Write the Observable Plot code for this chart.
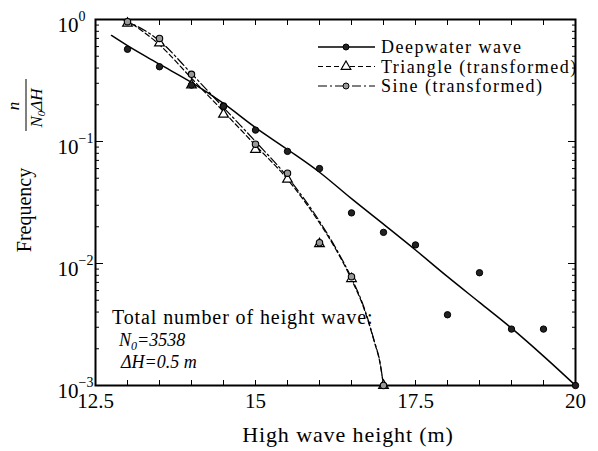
<!DOCTYPE html>
<html><head><meta charset="utf-8">
<script src="https://cdn.jsdelivr.net/npm/d3@7"></script>
<script src="https://cdn.jsdelivr.net/npm/@observablehq/plot@0.6"></script>
<style>
body{margin:0;background:#fff}
#chart svg{display:block}
</style></head><body><div id="chart"></div>
<script>
// Observed wave-height frequencies n/(N0·ΔH), bins of 0.5 m
const deepHeight = [13, 13.5, 14, 14.5, 15, 15.5, 16, 16.5, 17, 17.5, 18, 18.5, 19, 19.5, 20];
const deepFreq   = [0.57, 0.41, 0.29, 0.194, 0.124, 0.083, 0.06, 0.026, 0.018, 0.0142, 0.0038, 0.0084, 0.0029, 0.0029, 0.001];
const triHeight  = [13, 13.5, 14, 14.5, 15, 15.5, 16, 16.5, 17];
const triFreq    = [0.93, 0.64, 0.29, 0.167, 0.086, 0.049, 0.0145, 0.0075, 0.001];
const sineHeight = [13, 13.5, 14, 14.5, 15, 15.5, 16, 16.5, 17];
const sineFreq   = [0.96, 0.70, 0.355, 0.195, 0.095, 0.055, 0.0148, 0.0078, 0.001];

// Fitted distribution curves
const deepFitH = [12.75, 13, 13.5, 14, 14.5, 15, 15.5, 16, 16.5, 17, 17.5, 18, 18.5, 19, 19.5, 20];
const deepFitF = [0.74, 0.61, 0.43, 0.305, 0.205, 0.13, 0.086, 0.056, 0.034, 0.021, 0.0129, 0.0078, 0.0048, 0.00295, 0.00174, 0.001];
const triFitH  = [12.97, 13.5, 14, 14.5, 15, 15.5, 16, 16.25, 16.5, 16.7, 16.85, 16.95, 17];
const triFitF  = [1.0, 0.62, 0.33, 0.176, 0.093, 0.049, 0.0215, 0.0132, 0.0074, 0.0042, 0.00234, 0.00148, 0.001];
const sineFitH = [12.93, 13.5, 14, 14.5, 15, 15.5, 16, 16.25, 16.5, 16.7, 16.85, 16.95, 17];
const sineFitF = [1.0, 0.67, 0.36, 0.19, 0.1, 0.051, 0.0222, 0.0135, 0.0076, 0.0043, 0.00237, 0.0015, 0.001];

// Axes
const xTickMarks  = [12.5, 13, 13.5, 14, 14.5, 15, 15.5, 16, 16.5, 17, 17.5, 18, 18.5, 19, 19.5, 20];
const xTickLabels = [12.5, 15, 17.5, 20];
const yDecades    = [1, 0.1, 0.01, 0.001];
const yExponents  = ["0", "\u22121", "\u22122", "\u22123"];
const yMinor = [0.002,0.003,0.004,0.005,0.006,0.007,0.008,0.009,
                0.02,0.03,0.04,0.05,0.06,0.07,0.08,0.09,
                0.2,0.3,0.4,0.5,0.6,0.7,0.8,0.9];

const serif = "'Liberation Serif', 'Times New Roman', Times, serif";
const blank = () => "";
const expOf = d => yExponents[yDecades.indexOf(d)];

const chart = Plot.plot({
  width: 598, height: 451,
  marginLeft: 95, marginRight: 23, marginTop: 19, marginBottom: 66,
  style: {fontFamily: serif, fontSize: "20px", background: "#fff", color: "#000"},
  x: {domain: [12.5, 20]},
  y: {type: "log", domain: [0.001, 1]},
  marks: [
    // inward ticks on all four sides
    Plot.axisX(xTickMarks, {anchor: "bottom", tickSize: -5, tickFormat: blank, label: null}),
    Plot.axisX(xTickMarks, {anchor: "top", tickSize: -5, tickFormat: blank, label: null}),
    Plot.axisY(yDecades, {anchor: "left", tickSize: -8, tickFormat: blank, label: null}),
    Plot.axisY(yMinor, {anchor: "left", tickSize: -4, tickFormat: blank, label: null}),
    Plot.axisY(yDecades, {anchor: "right", tickSize: -8, tickFormat: blank, label: null}),
    Plot.axisY(yMinor, {anchor: "right", tickSize: -4, tickFormat: blank, label: null}),
    // tick labels
    Plot.axisX(xTickLabels, {anchor: "bottom", tickSize: 0, tickPadding: 8, fontSize: 21, tickFormat: d => String(d), label: null}),
    Plot.axisY(yDecades, {anchor: "left", tickSize: 0, tickPadding: 17, tickFormat: () => "10", fontSize: 21, dy: 6, label: null}),
    Plot.axisY(yDecades, {anchor: "left", tickSize: 0, tickPadding: 17, tickFormat: expOf, textAnchor: "start", fontSize: 14, dy: -3, label: null}),
    Plot.frame({strokeWidth: 2}),
    // fitted curves
    Plot.line(deepFitH, {x: deepFitH, y: deepFitF, curve: "monotone-x", stroke: "#000", strokeWidth: 1.5}),
    Plot.line(triFitH, {x: triFitH, y: triFitF, curve: "monotone-x", stroke: "#000", strokeWidth: 1.2, strokeDasharray: "5,3"}),
    Plot.line(sineFitH, {x: sineFitH, y: sineFitF, curve: "monotone-x", stroke: "#000", strokeWidth: 1.2, strokeDasharray: "9,3,2,3"}),
    // observations
    Plot.dot(triHeight, {x: triHeight, y: triFreq, symbol: "triangle", r: 3.6, fill: "#fff", stroke: "#000", strokeWidth: 1.2}),
    Plot.dot(sineHeight, {x: sineHeight, y: sineFreq, r: 3.2, fill: "#999", stroke: "#000", strokeWidth: 1.1}),
    Plot.dot(deepHeight, {x: deepHeight, y: deepFreq, r: 3.2, fill: "#222", stroke: "#000", strokeWidth: 1})
  ]
});
document.getElementById("chart").appendChild(chart);

const svg = d3.select(chart);

// legend
const legend = [
  {label: "Deepwater wave", dash: null, kind: "deep"},
  {label: "Triangle (transformed)", dash: "5,3", kind: "tri"},
  {label: "Sine (transformed)", dash: "9,3,2,3", kind: "sine"}
];
const lg = svg.append("g").attr("font-family", serif).attr("font-size", 18).attr("text-anchor", "start");
legend.forEach((e, i) => {
  const y = 47 + i * 19.5;
  lg.append("line").attr("x1", 318).attr("x2", 375).attr("y1", y).attr("y2", y)
    .attr("stroke", "#000").attr("stroke-width", e.kind === "deep" ? 1.5 : 1.2)
    .attr("stroke-dasharray", e.dash);
  if (e.kind === "tri") {
    lg.append("path").attr("d", d3.symbol(d3.symbolTriangle, 40)()).attr("transform", `translate(346,${y})`)
      .attr("fill", "#fff").attr("stroke", "#000").attr("stroke-width", 1.2);
  } else {
    lg.append("circle").attr("cx", 346).attr("cy", y).attr("r", 3)
      .attr("fill", e.kind === "deep" ? "#222" : "#999").attr("stroke", "#000");
  }
  lg.append("text").attr("x", 381).attr("y", y + 6).attr("letter-spacing", 1.5).text(e.label);
});

// note on sample size
const note = svg.append("g").attr("font-family", serif).attr("text-anchor", "start");
note.append("text").attr("x", 112).attr("y", 324).attr("font-size", 20).attr("letter-spacing", 0.9).text("Total number of height wave:");
const n0 = note.append("text").attr("x", 119).attr("y", 346).attr("font-size", 18).attr("font-style", "italic");
n0.append("tspan").text("N");
n0.append("tspan").attr("font-size", 12).attr("dy", 4).text("0");
n0.append("tspan").attr("dy", -4).text("=3538");
note.append("text").attr("x", 121).attr("y", 368).attr("font-size", 18).attr("font-style", "italic").text("\u0394H=0.5 m");

// axis titles
svg.append("text").attr("x", 348).attr("y", 442).attr("text-anchor", "middle")
  .attr("font-family", serif).attr("font-size", 22).attr("letter-spacing", 0.9).text("High wave height (m)");
svg.append("text").attr("transform", "translate(31,210) rotate(-90)").attr("text-anchor", "middle")
  .attr("font-family", serif).attr("font-size", 20).text("Frequency");
const frac = svg.append("g").attr("font-family", serif).attr("font-style", "italic").attr("font-size", 17);
frac.append("text").attr("transform", "translate(19,106) rotate(-90)").attr("text-anchor", "middle").text("n");
frac.append("line").attr("x1", 26).attr("x2", 26).attr("y1", 79).attr("y2", 131).attr("stroke", "#000").attr("stroke-width", 1);
const den = frac.append("text").attr("transform", "translate(42,108) rotate(-90)").attr("text-anchor", "middle");
den.append("tspan").text("N");
den.append("tspan").attr("font-size", 11).attr("dy", 3).text("0");
den.append("tspan").attr("dy", -3).text("\u0394H");
</script>
</body></html>
